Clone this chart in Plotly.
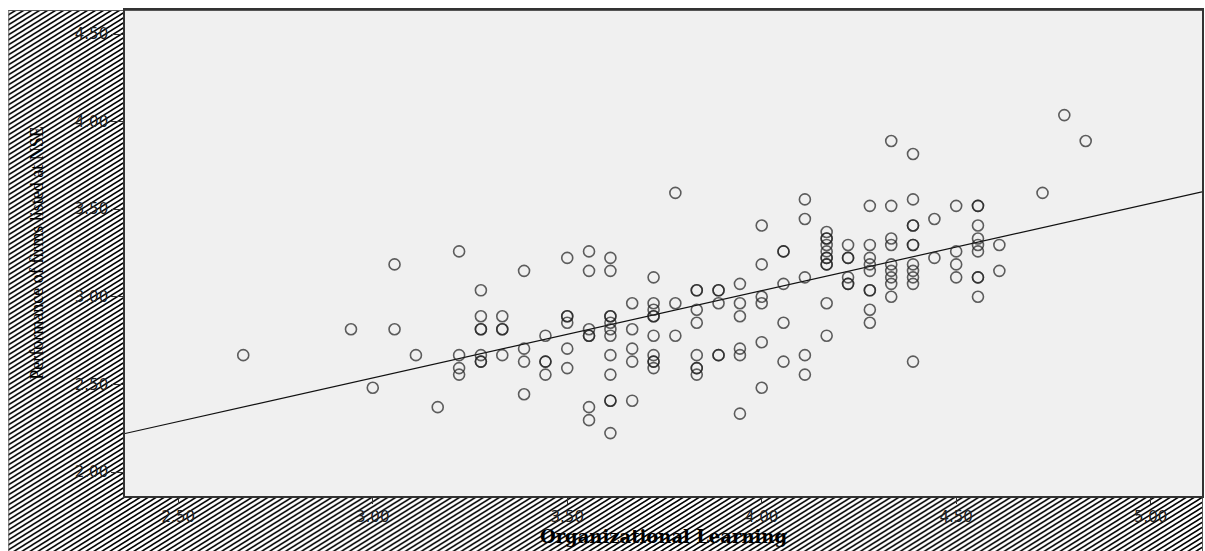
import base64
import plotly.graph_objects as go

# ---------------- data ----------------
org_learning = [
    3.056, 2.944, 3.056, 2.667, 3.111, 3.000,
    3.778, 3.222, 3.500, 3.556, 3.611, 3.389, 3.556, 3.611, 3.722, 3.278,
    3.833, 3.833, 3.889, 3.889, 3.667, 3.722, 3.722, 3.722, 3.722, 3.778,
    3.833, 3.889, 3.833, 3.278, 3.333, 3.278, 3.278, 3.333, 3.333, 3.500,
    3.500, 3.500, 3.556, 3.556, 3.556, 3.611, 3.611, 3.611, 3.611, 3.611,
    3.667, 3.444, 3.722, 3.778, 3.222, 3.278, 3.278, 3.278, 3.333, 3.389,
    3.389, 3.444, 3.444, 3.444, 3.500, 3.500, 3.222, 3.222, 3.611, 3.611,
    3.667, 3.667, 3.722, 3.722, 3.722, 3.722, 3.833, 3.833, 3.833, 3.833,
    3.889, 3.889, 3.389, 3.167, 3.556, 3.556, 3.611, 3.611, 3.667, 3.611,
    4.333, 4.389, 4.111, 4.389, 4.111, 4.278, 4.333, 4.500, 4.556, 4.556,
    4.000, 4.389, 4.389, 4.444, 4.556, 4.167, 4.167, 4.167, 4.167, 4.167,
    4.167, 4.167, 4.167, 4.167, 4.056, 4.056, 4.222, 4.222, 4.222, 4.278,
    4.278, 4.278, 4.278, 4.333, 4.333, 4.333, 4.333, 4.333, 4.333, 4.389,
    4.389, 4.389, 4.389, 4.389, 4.389, 4.444, 4.500, 4.500, 4.500, 4.556,
    4.556, 4.556, 4.556, 4.556, 4.556, 4.611, 4.611, 4.000, 3.944, 3.944,
    3.944, 4.000, 4.000, 4.056, 4.111, 4.167, 4.222, 4.222, 4.222, 4.278,
    4.278, 4.278, 4.278, 4.333, 4.389, 4.056, 4.167, 4.000, 3.944, 3.944,
    4.056, 4.111, 4.111, 4.000, 3.944,
    4.778, 4.833, 4.722,
]
firm_performance = [
    3.185, 2.815, 2.815, 2.667, 2.667, 2.481,
    3.593, 3.259, 3.222, 3.259, 3.222, 3.148, 3.148, 3.148, 3.111, 3.037,
    3.037, 3.037, 3.037, 3.037, 2.963, 2.963, 2.926, 2.889, 2.889, 2.963,
    2.926, 2.963, 2.852, 2.889, 2.889, 2.815, 2.815, 2.815, 2.815, 2.889,
    2.889, 2.852, 2.815, 2.778, 2.778, 2.889, 2.889, 2.852, 2.815, 2.778,
    2.815, 2.778, 2.778, 2.778, 2.667, 2.667, 2.630, 2.630, 2.667, 2.704,
    2.630, 2.630, 2.630, 2.556, 2.704, 2.593, 2.593, 2.556, 2.667, 2.556,
    2.704, 2.630, 2.667, 2.630, 2.630, 2.593, 2.667, 2.593, 2.593, 2.556,
    2.667, 2.667, 2.444, 2.370, 2.370, 2.296, 2.407, 2.407, 2.407, 2.222,
    3.889, 3.815, 3.556, 3.556, 3.444, 3.519, 3.519, 3.519, 3.519, 3.519,
    3.407, 3.407, 3.407, 3.444, 3.407, 3.370, 3.333, 3.333, 3.296, 3.259,
    3.222, 3.222, 3.185, 3.185, 3.259, 3.259, 3.296, 3.222, 3.222, 3.296,
    3.222, 3.185, 3.148, 3.333, 3.296, 3.185, 3.148, 3.111, 3.074, 3.296,
    3.296, 3.185, 3.148, 3.111, 3.074, 3.222, 3.259, 3.185, 3.111, 3.333,
    3.296, 3.259, 3.111, 3.111, 3.000, 3.296, 3.148, 3.185, 3.074, 2.963,
    2.889, 3.000, 2.963, 3.074, 3.111, 2.963, 3.111, 3.074, 3.074, 3.037,
    3.037, 2.926, 2.852, 3.000, 2.630, 2.852, 2.778, 2.741, 2.704, 2.667,
    2.630, 2.667, 2.556, 2.481, 2.333,
    4.037, 3.889, 3.593,
]

# fitted linear regression line
fit_intercept = 1.043
fit_slope = 0.498

x_range = [2.363, 5.132]
y_range = [1.863, 4.637]
x_ticks = [2.5, 3.0, 3.5, 4.0, 4.5, 5.0]
y_ticks = [2.0, 2.5, 3.0, 3.5, 4.0, 4.5]
x_title = "Organizational Learning"
y_title = "Performance of firms listed at NSE"

fit_x = x_range
fit_y = [fit_intercept + fit_slope * v for v in fit_x]

# ---------------- hatched SPSS-style frame ----------------
W, H = 1205, 551
ml, mr, mt, mb = 125, 1, 10, 55
pw, ph = W - ml - mr, H - mt - mb
fx0, fy0 = 8, 10
sw, sh = W - fx0, H - fy0
svg = f"""<svg xmlns='http://www.w3.org/2000/svg' width='{sw}' height='{sh}'>
<defs><pattern id='h' patternUnits='userSpaceOnUse' width='8' height='5'>
<rect width='8' height='5' fill='white'/>
<path d='M-2,1.25 L2,-1.25 M0,5 L8,0 M6,6.25 L10,3.75' stroke='black' stroke-width='1.5'/>
</pattern></defs>
<rect width='{sw}' height='{sh}' fill='url(#h)'/>
<rect x='{ml - fx0}' y='0' width='{pw}' height='{ph}' fill='#f0f0f0'/>
<rect x='0.5' y='0.5' width='{sw - 1}' height='{sh}' fill='none' stroke='#555' stroke-width='1'/>
</svg>"""
src = "data:image/svg+xml;base64," + base64.b64encode(svg.encode()).decode()

fig = go.Figure()
fig.add_trace(go.Scatter(
    x=fit_x, y=fit_y, mode="lines",
    line=dict(color="#111111", width=1.2),
    hoverinfo="skip", showlegend=False,
))
fig.add_trace(go.Scatter(
    x=org_learning, y=firm_performance, mode="markers",
    marker=dict(symbol="circle-open", size=11, color="rgba(35,35,35,0.72)",
                line=dict(width=1.6)),
    showlegend=False,
))

fig.update_layout(
    width=W, height=H,
    margin=dict(l=ml, r=mr, t=mt, b=mb),
    paper_bgcolor="white",
    plot_bgcolor="#f0f0f0",
    images=[dict(
        source=src, xref="paper", yref="paper",
        x=(fx0 - ml) / pw, y=1.0,
        sizex=sw / pw, sizey=sh / ph,
        xanchor="left", yanchor="top",
        sizing="stretch", layer="below",
    )],
)
fig.update_xaxes(
    range=x_range, tickvals=x_ticks, tickformat=".2f",
    showgrid=False, zeroline=False,
    showline=True, linecolor="#333", linewidth=1.6, mirror=True,
    ticks="outside", ticklen=6, tickcolor="#333",
    tickfont=dict(family="DejaVu Sans", size=15, color="#222"),
    title=dict(text=x_title, standoff=4,
               font=dict(family="DejaVu Serif", size=18, color="black", weight="bold")),
)
fig.update_yaxes(
    range=y_range, tickvals=y_ticks, tickformat=".2f",
    showgrid=False, zeroline=False,
    showline=True, linecolor="#333", linewidth=1.6, mirror=True,
    ticks="outside", ticklen=12, tickcolor="#333",
    tickfont=dict(family="DejaVu Sans", size=15, color="#222"),
    title=dict(text=y_title, standoff=26,
               font=dict(family="Liberation Serif", size=18, color="black")),
)

fig.write_html(
    "out.html",
    config={"displayModeBar": False},
    post_script="document.body.style.margin='0';"
                "document.documentElement.style.overflow='hidden';"
                "document.body.style.overflow='hidden';",
)
